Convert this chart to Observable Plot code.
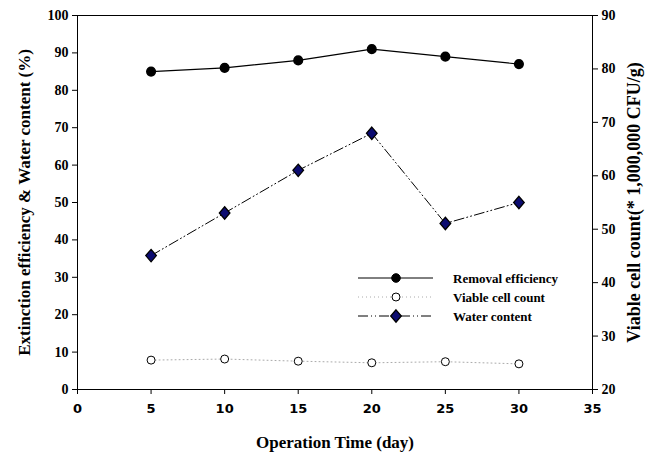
<!DOCTYPE html>
<html>
<head>
<meta charset="utf-8">
<script src="https://cdn.jsdelivr.net/npm/d3@7"></script>
<script src="https://cdn.jsdelivr.net/npm/@observablehq/plot@0.6"></script>
<style>
  body { margin: 0; background: #fff; }
  #chart { position: relative; width: 646px; height: 453px; overflow: hidden; }
</style>
</head>
<body>
<div id="chart"></div>
<script>
const days = [5, 10, 15, 20, 25, 30];
const removalEfficiency = [85, 86, 88, 91, 89, 87];
const viableCellCount = [25.5, 25.7, 25.3, 25.0, 25.2, 24.8];
const waterContent = [35.8, 47.2, 58.6, 68.5, 44.4, 50.0];
const xTicks = [0, 5, 10, 15, 20, 25, 30, 35];
const leftTicks = [0, 10, 20, 30, 40, 50, 60, 70, 80, 90, 100];
const rightTicks = [20, 30, 40, 50, 60, 70, 80, 90];
const rightDomain = [20, 90];
const legendLabels = ["Removal efficiency", "Viable cell count", "Water content"];

// map right-axis values onto the left scale domain [0,100]
const toLeft = v => (v - rightDomain[0]) / (rightDomain[1] - rightDomain[0]) * 100;

const rem = days.map((d, i) => ({x: d, y: removalEfficiency[i]}));
const via = days.map((d, i) => ({x: d, y: toLeft(viableCellCount[i])}));
const wat = days.map((d, i) => ({x: d, y: waterContent[i]}));

const serif = "'Liberation Serif', 'Times New Roman', serif";
const sans = "'DejaVu Sans', Verdana, sans-serif";
const waterDash = "10,3,1,3,1,3";

// slightly tall diamond marker
const wideDiamond = {
  draw(context, size) {
    const w = 5.3, h = 6.2;
    context.moveTo(0, -h);
    context.lineTo(w, 0);
    context.lineTo(0, h);
    context.lineTo(-w, 0);
    context.closePath();
  }
};

const plot = Plot.plot({
  width: 646,
  height: 453,
  marginLeft: 77,
  marginRight: 54,
  marginTop: 15,
  marginBottom: 64,
  style: {background: "#fff", color: "#000", overflow: "visible"},
  x: {domain: [0, 35]},
  y: {domain: [0, 100]},
  marks: [
    Plot.frame({stroke: "#000", strokeWidth: 1}),
    Plot.axisX({ticks: xTicks, tickSize: 5, tickPadding: 9, fontSize: 13, fontFamily: sans, fontWeight: "bold",
      label: "Operation Time (day)", labelAnchor: "center", labelArrow: "none", labelOffset: 58}),
    Plot.axisY({anchor: "left", ticks: leftTicks, tickSize: 5, tickPadding: 4, fontSize: 14, fontFamily: serif, fontWeight: "bold",
      label: "Extinction efficiency & Water content (%)", labelAnchor: "center", labelArrow: "none", labelOffset: 60}),
    Plot.axisY({anchor: "right", ticks: rightTicks.map(toLeft),
      tickFormat: (d, i) => String(rightTicks[i]),
      tickSize: 5, tickPadding: 4, fontSize: 14, fontFamily: serif, fontWeight: "bold",
      label: "Viable cell count(* 1,000,000 CFU/g)", labelAnchor: "center", labelArrow: "none", labelOffset: 47}),
    Plot.line(via, {x: "x", y: "y", stroke: "#aaa", strokeWidth: 1, strokeDasharray: "1,3"}),
    Plot.line(wat, {x: "x", y: "y", stroke: "#000", strokeWidth: 1, strokeDasharray: waterDash}),
    Plot.line(rem, {x: "x", y: "y", stroke: "#000", strokeWidth: 1.2}),
    Plot.dot(rem, {x: "x", y: "y", r: 4.3, fill: "#000", stroke: "#000"}),
    Plot.dot(via, {x: "x", y: "y", r: 4, fill: "#fff", stroke: "#000", strokeWidth: 1}),
    Plot.dot(wat, {x: "x", y: "y", symbol: wideDiamond, r: 4.3, fill: "#0b0b70", stroke: "#000", strokeWidth: 1.3})
  ]
});
document.getElementById("chart").appendChild(plot);

const svg = d3.select(plot);
svg.selectAll("g[aria-label='x-axis label'] text")
  .attr("font-family", serif).attr("font-weight", "bold").attr("font-size", 17);
svg.selectAll("g[aria-label='y-axis label'] text")
  .attr("font-family", serif).attr("font-weight", "bold").attr("font-size", 17);
// right label slightly larger
svg.selectAll("g[aria-label='y-axis label']").filter((d, i) => i === 1).selectAll("text")
  .attr("font-size", 18);

// legend
const lg = svg.append("g").attr("class", "legend").attr("text-anchor", "start");
const rowsY = [278, 297, 316];
const styles = [
  {stroke: "#000", dash: null, fill: "#000", sym: "circle"},
  {stroke: "#aaa", dash: "1,3", fill: "#fff", sym: "circle"},
  {stroke: "#000", dash: waterDash, fill: "#0b0b70", sym: "diamond"}
];
legendLabels.forEach((lab, i) => {
  const y = rowsY[i], s = styles[i];
  lg.append("line").attr("x1", 358).attr("x2", 433).attr("y1", y).attr("y2", y)
    .attr("stroke", s.stroke).attr("stroke-dasharray", s.dash);
  if (s.sym === "circle") {
    lg.append("circle").attr("cx", 396).attr("cy", y).attr("r", i === 0 ? 4.3 : 4).attr("fill", s.fill).attr("stroke", "#000");
  } else {
    lg.append("path").attr("d", d3.symbol(wideDiamond)()).attr("transform", `translate(396,${y})`)
      .attr("fill", s.fill).attr("stroke", "#000").attr("stroke-width", 1.3);
  }
  lg.append("text").attr("x", 453).attr("y", y).attr("dy", "0.35em")
    .attr("font-family", serif).attr("font-weight", "bold").attr("font-size", 13).attr("fill", "#000")
    .text(lab);
});
</script>
</body>
</html>
